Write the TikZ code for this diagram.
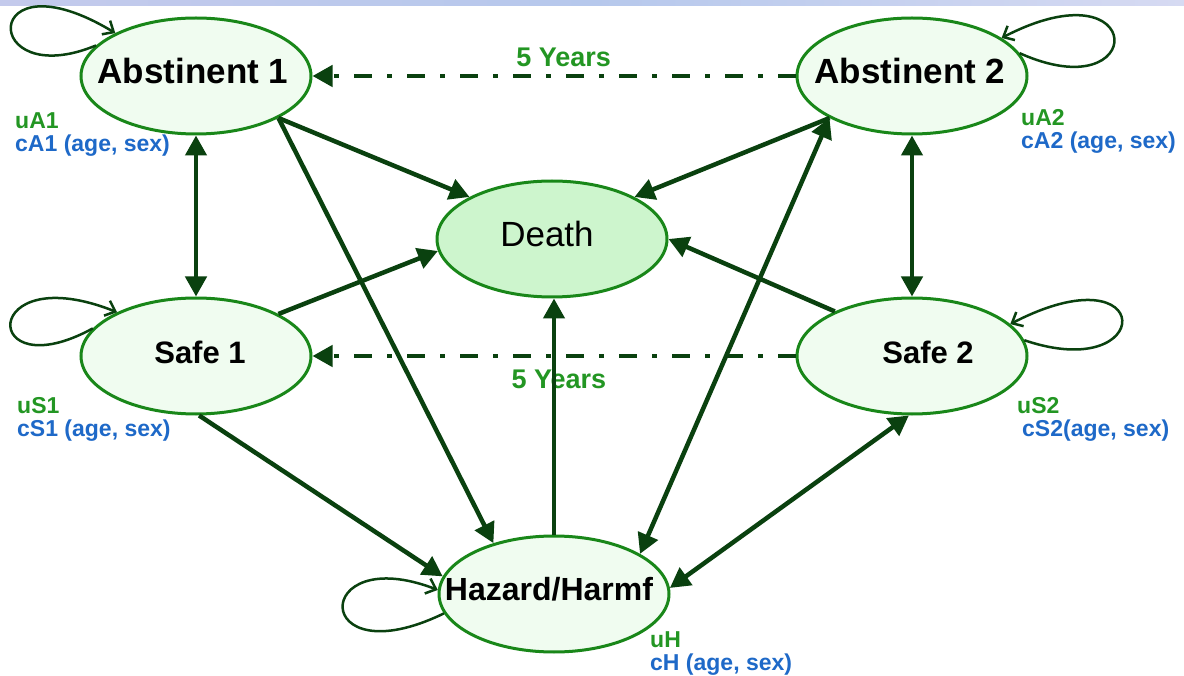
\documentclass[tikz,border=0pt]{standalone}
\usepackage{fontspec}
\setmainfont{Liberation Sans}
\usetikzlibrary{shapes.geometric, arrows.meta, positioning, calc}

\definecolor{stateline}{RGB}{25,135,25}
\definecolor{statefill}{RGB}{240,252,240}
\definecolor{deathfill}{RGB}{205,245,205}
\definecolor{arrowgreen}{RGB}{10,65,15}
\definecolor{textgreen}{RGB}{35,150,35}
\definecolor{textblue}{RGB}{30,105,200}
\definecolor{barleft}{RGB}{196,202,236}
\definecolor{barmid}{RGB}{182,200,236}
\definecolor{barright}{RGB}{214,218,242}

\begin{document}
\begin{tikzpicture}[x=1pt, y=-1pt, >={Triangle[length=20pt, width=21pt]},
    state/.style={draw=stateline, line width=3pt, ellipse, fill=statefill,
      minimum width=230pt, minimum height=116pt, inner sep=0pt},
    statename/.style={font=\fontsize{35}{35}\selectfont\bfseries, yshift=5pt},
    smallname/.style={font=\fontsize{31}{31}\selectfont\bfseries, yshift=4pt},
    param/.style={anchor=north west, align=left, inner sep=0pt,
      font=\fontsize{23}{23}\selectfont\bfseries},
    trans/.style={draw=arrowgreen, line width=4.5pt},
    fiveyears/.style={trans, dash pattern=on 18pt off 15pt on 5pt off 15pt},
    selfloop/.style={draw=arrowgreen, line width=2.5pt, -{Straight Barb[length=9pt, width=16pt]}},
    years/.style={text=textgreen, inner sep=0pt, font=\fontsize{27}{27}\selectfont\bfseries}]

    \fill [white] (0,0) rectangle (1184,676);
    \shade [left color=barleft, right color=barright, middle color=barmid] (0,0) rectangle (1184,6);
    \useasboundingbox (0,0) rectangle (1184,676);

    \node [state, label={[statename, xshift=-3pt]center:Abstinent 1}] (abst1) at (196,76) {};

    \node [state, right=483pt of abst1, label={[statename, xshift=-2pt]center:Abstinent 2}] (abst2) {};

    \node [state, below=161pt of abst1, label={[smallname, xshift=4pt]center:Safe 1}] (safe1) {};

    \node [state, below=161pt of abst2, label={[smallname, xshift=16pt]center:Safe 2}] (safe2) {};

    \node [state, fill=deathfill, label={[statename, xshift=-5pt, font=\fontsize{35}{35}\selectfont]center:Death}] (death) at (552,239) {};

    \node [state, label={[statename, xshift=-5pt, font=\fontsize{32}{32}\selectfont\bfseries]center:Hazard/Harmf}] (hazard) at (554,594) {};

    \node [param] (pa1) at (15,112) {\textcolor{textgreen}{uA1}\\\textcolor{textblue}{cA1 (age, sex)}};
    \node [param] (pa2) at (1021,109) {\textcolor{textgreen}{uA2}\\\textcolor{textblue}{cA2 (age, sex)}};
    \node [param] (ps1) at (17,397) {\textcolor{textgreen}{uS1}\\\textcolor{textblue}{cS1 (age, sex)}};
    \node [param] (ps2) at (1017,397) {\textcolor{textgreen}{uS2}\\\hspace*{5pt}\textcolor{textblue}{cS2(age, sex)}};
    \node [param] (ph) at (650,631) {\textcolor{textgreen}{uH}\\\textcolor{textblue}{cH (age, sex)}};

    \draw [fiveyears, ->] (abst2) -- node [years, above=7pt, pos=0.48] (years1) {5 Years} (abst1);
    \draw [fiveyears, ->] (safe2) -- node [years, below=12pt, pos=0.49] (years2) {5 Years} (safe1);

    \draw [trans, <->] (abst1) -- (safe1);
    \draw [trans, <->] (abst2) -- (safe2);
    \draw [trans, ->] (abst1.333) -- (death.153);
    \draw [trans, ->] (abst1.333) -- (hazard.140);
    \draw [trans, ->] (abst2.207) -- (death.27);
    \draw [trans, <->] (hazard.25) -- (abst2.207);
    \draw [trans, ->] (safe1.27) -- (death.186);
    \draw [trans, ->] (safe1.273) -- (hazard.171);
    \draw [trans, ->] (safe2.150) -- (death.east);
    \draw [trans, ->] (hazard.north) -- (hazard.north |- death.south);
    \draw [trans, <->] (hazard.3) -- (safe2.267);

    \draw [selfloop] (abst1.163) .. controls +(-116,48) and +(-136,-82) .. (abst1.152);
    \draw [selfloop] (abst2.12) .. controls +(129,58) and +(147,-76) .. (abst2.23);
    \draw [selfloop] (safe1.165) .. controls +(-113,62) and +(-138,-55) .. (safe1.151);
    \draw [selfloop] (safe2.8) .. controls +(132,45) and +(147,-76) .. (safe2.18);
    \draw [selfloop] (hazard.190) .. controls +(-134,65) and +(-127,-49) .. (hazard.178);
  \end{tikzpicture}
\end{document}
